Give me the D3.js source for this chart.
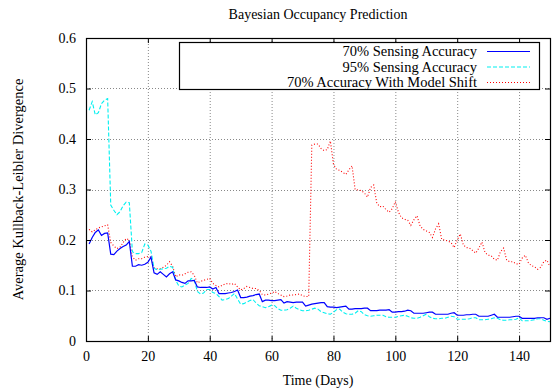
<!DOCTYPE html>
<html>
<head>
<meta charset="utf-8">
<script src="https://cdn.jsdelivr.net/npm/d3@7"></script>
<style>
  body { margin: 0; background: #fff; }
  text { font-family: "Liberation Serif", "Times New Roman", serif; fill: #000; }
</style>
</head>
<body>
<svg id="chart" width="553" height="391"></svg>
<script>
// ─── data (one value per day, days 1..150) ──────────────────────────────────
const firstDay = 1;

const acc70 = [
  0.192, 0.205, 0.215, 0.220, 0.209, 0.213, 0.214, 0.172, 0.171, 0.178,
  0.183, 0.187, 0.190, 0.197, 0.148, 0.148, 0.151, 0.150, 0.152, 0.156,
  0.166, 0.135, 0.132, 0.137, 0.132, 0.127, 0.133, 0.137, 0.121, 0.119,
  0.116, 0.114, 0.119, 0.119, 0.120, 0.107, 0.106, 0.106, 0.106, 0.107,
  0.103, 0.106, 0.094, 0.094, 0.094, 0.095, 0.096, 0.098, 0.101, 0.086,
  0.086, 0.087, 0.089, 0.090, 0.092, 0.093, 0.078, 0.081, 0.081, 0.080,
  0.080, 0.081, 0.082, 0.075, 0.078, 0.077, 0.076, 0.077, 0.077, 0.077,
  0.069, 0.071, 0.073, 0.074, 0.075, 0.076, 0.076, 0.068, 0.067, 0.067,
  0.066, 0.067, 0.068, 0.069, 0.063, 0.063, 0.064, 0.064, 0.064, 0.065,
  0.065, 0.060, 0.060, 0.060, 0.061, 0.061, 0.061, 0.062, 0.057, 0.057,
  0.058, 0.058, 0.059, 0.061, 0.060, 0.055, 0.055, 0.055, 0.055, 0.056,
  0.057, 0.057, 0.053, 0.053, 0.053, 0.053, 0.053, 0.055, 0.056, 0.051,
  0.051, 0.051, 0.052, 0.052, 0.053, 0.053, 0.049, 0.049, 0.049, 0.049,
  0.051, 0.053, 0.047, 0.047, 0.047, 0.047, 0.047, 0.048, 0.049, 0.049,
  0.045, 0.045, 0.045, 0.045, 0.045, 0.046, 0.046, 0.046, 0.043, 0.045
];

const acc95 = [
  0.457, 0.474, 0.448, 0.452, 0.470, 0.477, 0.480, 0.269, 0.259, 0.250,
  0.256, 0.268, 0.275, 0.274, 0.177, 0.173, 0.173, 0.175, 0.192, 0.190,
  0.178, 0.144, 0.141, 0.142, 0.143, 0.144, 0.148, 0.146, 0.120, 0.109,
  0.107, 0.111, 0.114, 0.124, 0.121, 0.098, 0.093, 0.095, 0.102, 0.102,
  0.096, 0.094, 0.088, 0.081, 0.082, 0.084, 0.089, 0.094, 0.083, 0.073,
  0.074, 0.077, 0.080, 0.082, 0.075, 0.070, 0.068, 0.066, 0.068, 0.071,
  0.070, 0.064, 0.061, 0.061, 0.062, 0.065, 0.069, 0.065, 0.062, 0.060,
  0.060, 0.061, 0.063, 0.065, 0.063, 0.058, 0.056, 0.054, 0.053, 0.057,
  0.062, 0.063, 0.057, 0.054, 0.053, 0.053, 0.055, 0.060, 0.058, 0.052,
  0.050, 0.049, 0.050, 0.051, 0.051, 0.051, 0.048, 0.047, 0.047, 0.047,
  0.049, 0.050, 0.051, 0.049, 0.046, 0.045, 0.045, 0.047, 0.050, 0.053,
  0.048, 0.045, 0.044, 0.044, 0.045, 0.045, 0.047, 0.049, 0.048, 0.043,
  0.043, 0.043, 0.043, 0.044, 0.046, 0.046, 0.042, 0.042, 0.042, 0.043,
  0.044, 0.046, 0.045, 0.042, 0.041, 0.041, 0.042, 0.042, 0.043, 0.046,
  0.040, 0.040, 0.040, 0.041, 0.042, 0.044, 0.044, 0.041, 0.039, 0.038
];

const acc70Shift = [
  0.221, 0.216, 0.220, 0.224, 0.226, 0.228, 0.230, 0.195, 0.188, 0.183,
  0.186, 0.195, 0.203, 0.200, 0.167, 0.160, 0.163, 0.163, 0.166, 0.167,
  0.166, 0.145, 0.143, 0.143, 0.146, 0.150, 0.157, 0.148, 0.127, 0.131,
  0.130, 0.133, 0.136, 0.137, 0.130, 0.115, 0.118, 0.120, 0.122, 0.124,
  0.114, 0.110, 0.107, 0.110, 0.113, 0.114, 0.112, 0.114, 0.107, 0.101,
  0.104, 0.108, 0.106, 0.104, 0.104, 0.100, 0.092, 0.091, 0.093, 0.095,
  0.098, 0.094, 0.091, 0.088, 0.089, 0.091, 0.091, 0.092, 0.093, 0.090,
  0.088, 0.088, 0.388, 0.390, 0.390, 0.381, 0.377, 0.379, 0.396, 0.350,
  0.340, 0.338, 0.334, 0.330, 0.339, 0.347, 0.300, 0.299, 0.298, 0.293,
  0.285, 0.304, 0.309, 0.273, 0.266, 0.267, 0.260, 0.255, 0.262, 0.276,
  0.255, 0.244, 0.241, 0.239, 0.229, 0.240, 0.248, 0.228, 0.221, 0.218,
  0.215, 0.205, 0.222, 0.232, 0.201, 0.200, 0.198, 0.195, 0.185, 0.200,
  0.212, 0.190, 0.185, 0.184, 0.179, 0.174, 0.184, 0.196, 0.175, 0.170,
  0.169, 0.162, 0.160, 0.177, 0.184, 0.160, 0.157, 0.157, 0.153, 0.152,
  0.164, 0.170, 0.155, 0.149, 0.147, 0.142, 0.146, 0.157, 0.160, 0.147
];

const seriesNames = ['70% Sensing Accuracy', '95% Sensing Accuracy', '70% Accuracy With Model Shift'];
const xTicks = [0, 20, 40, 60, 80, 100, 120, 140];
const yTicks = [0, 0.1, 0.2, 0.3, 0.4, 0.5, 0.6];

// ─── layout ─────────────────────────────────────────────────────────────────
const W = 553, H = 391;
const M = { top: 38, right: 3, bottom: 50, left: 86 };
const iw = W - M.left - M.right;
const ih = H - M.top - M.bottom;

const svg = d3.select('#chart');
const g = svg.append('g').attr('transform', `translate(${M.left},${M.top})`);

const x = d3.scaleLinear().domain([0, 150]).range([0, iw]);
const y = d3.scaleLinear().domain([0, 0.6]).range([ih, 0]);

// grid
g.append('g')
  .selectAll('line')
  .data(xTicks.filter((d) => d > 0))
  .join('line')
  .attr('x1', (d) => x(d) + 0.5).attr('x2', (d) => x(d) + 0.5)
  .attr('y1', 0).attr('y2', ih)
  .attr('stroke', '#888').attr('stroke-width', 1).attr('stroke-dasharray', '1,2');
g.append('g')
  .selectAll('line')
  .data(yTicks.filter((d) => d > 0 && d < 0.6))
  .join('line')
  .attr('x1', 0).attr('x2', iw)
  .attr('y1', (d) => Math.round(y(d)) + 0.5).attr('y2', (d) => Math.round(y(d)) + 0.5)
  .attr('stroke', '#888').attr('stroke-width', 1).attr('stroke-dasharray', '1,2');

// series
const styles = [
  { data: acc70, color: '#0000ff', dash: null, width: 1.2 },
  { data: acc95, color: '#00f0f0', dash: '4,2', width: 1.1 },
  { data: acc70Shift, color: '#ff0000', dash: '1,2', width: 1.1 },
];
const line = d3.line()
  .x((d, i) => x(firstDay + i))
  .y((d) => y(d));

const plot = g.append('g');
for (const s of styles.slice().reverse()) {
  plot.append('path')
    .datum(s.data)
    .attr('fill', 'none')
    .attr('stroke', s.color)
    .attr('stroke-width', s.width)
    .attr('stroke-dasharray', s.dash)
    .attr('d', line);
}

// axes: inward ticks, mirrored
const fs = 14;
const ax = (a) => a.tickSizeOuter(0).tickSizeInner(-5).tickPadding(10);
g.append('g').attr('transform', `translate(0,${ih})`)
  .call(ax(d3.axisBottom(x).tickValues(xTicks).tickFormat(d3.format('d'))))
  .call((s) => s.selectAll('text').attr('font-size', fs).attr('font-family', 'Liberation Serif'));
g.append('g')
  .call(ax(d3.axisTop(x).tickValues(xTicks)).tickFormat(''));
g.append('g')
  .call(ax(d3.axisLeft(y).tickValues(yTicks).tickFormat((d) => (d === 0 ? '0' : d3.format('.1f')(d)))))
  .call((s) => s.selectAll('text').attr('font-size', fs).attr('font-family', 'Liberation Serif'));
g.append('g').attr('transform', `translate(${iw},0)`)
  .call(ax(d3.axisRight(y).tickValues(yTicks)).tickFormat(''));
g.selectAll('.domain').remove();
g.selectAll('.tick line').attr('stroke', '#000');

// border
g.append('rect')
  .attr('x', 0.5).attr('y', 0.5).attr('width', iw).attr('height', ih)
  .attr('fill', 'none').attr('stroke', '#000').attr('stroke-width', 1.2);

// legend
const lg = svg.append('g');
lg.append('rect')
  .attr('x', 179.5).attr('y', 42.5).attr('width', 360).attr('height', 47)
  .attr('fill', '#fff').attr('stroke', '#000').attr('stroke-width', 1.2);
seriesNames.forEach((name, i) => {
  const cy = 51 + i * 15.5;
  lg.append('text')
    .attr('x', 477).attr('y', cy).attr('dy', '0.35em')
    .attr('text-anchor', 'end').attr('font-size', 14.5)
    .text(name);
  lg.append('line')
    .attr('x1', 487).attr('x2', 530).attr('y1', cy + 0.5).attr('y2', cy + 0.5)
    .attr('stroke', styles[i].color).attr('stroke-width', styles[i].width)
    .attr('stroke-dasharray', styles[i].dash);
});

// titles
svg.append('text')
  .attr('x', 318).attr('y', 19)
  .attr('text-anchor', 'middle').attr('font-size', 14)
  .text('Bayesian Occupancy Prediction');
svg.append('text')
  .attr('x', 318).attr('y', 385)
  .attr('text-anchor', 'middle').attr('font-size', fs)
  .text('Time (Days)');
svg.append('text')
  .attr('transform', `translate(23,${M.top + ih / 2}) rotate(-90)`)
  .attr('text-anchor', 'middle').attr('font-size', 14.5)
  .text('Average Kullback-Leibler Divergence');
</script>
</body>
</html>
